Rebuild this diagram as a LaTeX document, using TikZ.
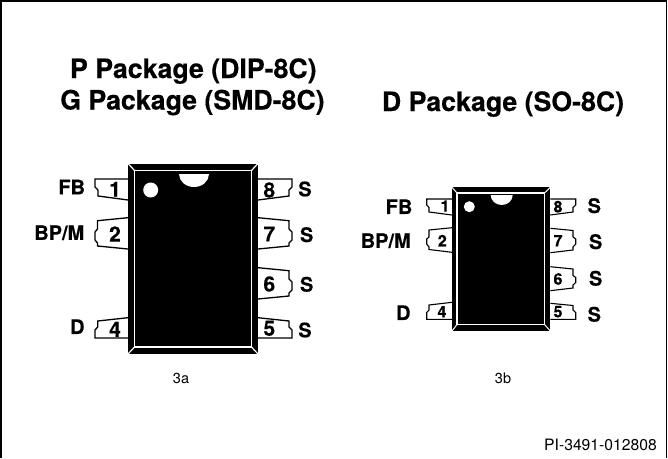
\documentclass[tikz,border=0pt]{standalone}
\usepackage{fontspec}
\setmainfont[BoldFeatures={FakeBold=0.3}]{TeX Gyre Heros}
\tikzset{
  x=1pt,y=-1pt,
  frameline/.style={black,line width=1.6pt},
  pinshape/.style={draw=black,fill=white,line width=1.3pt,line join=miter},
  label/.style={inner sep=0pt,font=\bfseries\fontsize{20}{22}\selectfont},
  title/.style={inner sep=0pt,anchor=base,font=\bfseries\fontsize{26.7}{30}\selectfont},
  bigdigit/.style={inner sep=0pt,font=\bfseries\fontsize{21}{24}\selectfont},
  smalldigit/.style={inner sep=0pt,font=\bfseries\fontsize{16}{18}\selectfont},
  caption/.style={inner sep=0pt,font=\fontsize{14.5}{17}\selectfont},
  credit/.style={inner sep=0pt,font=\fontsize{15.7}{18}\selectfont},
  bevel/.style={white,line width=1.2pt},
}
\begin{document}
\begin{tikzpicture}
\useasboundingbox (0,0) rectangle (668,458);
\fill[white] (0,0) rectangle (668,458);
\draw[frameline] (1,458) -- (1,1) -- (666.5,1) -- (666.5,458);
% titles
\node[title] (t1) at (193.3,78) {P Package (DIP-8C)};
\node[title] (t2) at (192.4,109.5) {G Package (SMD-8C)};
\node[title] (t3) at (503,111) {D Package (SO-8C)};
% pins of 3a
\draw[pinshape] (128,179) -- (95,179) -- (95,187) -- (98,190) -- (98,196) -- (128,200);
\draw[pinshape] (128,217.7) -- (97.5,220.7) -- (97.5,229) -- (95,232) -- (95,240) -- (97.5,243) -- (97.5,246) -- (128,249);
\draw[pinshape] (128,317.7) -- (97.7,321) -- (97.7,327) -- (95,330) -- (95,338) -- (128,338);
\draw[pinshape] (258,179) -- (292,179) -- (292,187) -- (289,190) -- (289,196) -- (258,200);
\draw[pinshape] (258,217.7) -- (289,220.7) -- (289,229) -- (292,232) -- (292,240) -- (289,243) -- (289,246) -- (258,249);
\draw[pinshape] (258,267.7) -- (289,270.7) -- (289,279) -- (292,282) -- (292,290) -- (289,293) -- (289,296) -- (258,299);
\draw[pinshape] (258,317.7) -- (289,321) -- (289,327) -- (292,330) -- (292,338) -- (258,338);
% body of 3a
\fill[black] (128,163.5) rectangle (258,354);
\draw[white,line width=1.6pt] (134.5,170.5) rectangle (251.5,347);
\draw[bevel] (128,163.5) -- (134.5,170.5) (258,163.5) -- (251.5,170.5) (128,354) -- (134.5,347) (258,354) -- (251.5,347);
\fill[white] (150.7,190) circle[radius=7.5];
\fill[white] (179,174) -- (209,174) arc[start angle=0,end angle=180,x radius=15,y radius=13] -- cycle;
% pins of 3b
\begin{scope}[pinshape/.append style={line width=1.1pt}]
\draw[pinshape] (452,199) -- (426.7,199) -- (426.7,205) -- (429,207.5) -- (429,212) -- (452,215);
\draw[pinshape] (452,227.7) -- (429,230) -- (429,237) -- (426.7,239) -- (426.7,244) -- (429,247) -- (429,249.5) -- (452,252.3);
\draw[pinshape] (452,302.3) -- (429,305) -- (429,310) -- (426.7,312.5) -- (426.7,319.3) -- (452,319.3);
\draw[pinshape] (550.3,199) -- (575.7,199) -- (575.7,205) -- (573,207.5) -- (573,212) -- (550.3,215);
\draw[pinshape] (550.3,228.3) -- (573,230.5) -- (573,237) -- (575.7,239) -- (575.7,244) -- (573,247) -- (573,250) -- (550.3,252.7);
\draw[pinshape] (550.3,266.7) -- (573,269) -- (573,275.5) -- (575.7,277.5) -- (575.7,282.5) -- (573,285) -- (573,288) -- (550.3,290.7);
\draw[pinshape] (550.3,303.3) -- (573,305.5) -- (573,310) -- (575.7,312.5) -- (575.7,319.3) -- (550.3,319.3);
\end{scope}
% body of 3b
\fill[black] (452,187.3) rectangle (550.3,331);
\draw[white,line width=1.3pt] (457,193) rectangle (544.5,324.5);
\draw[bevel,line width=1pt] (452,187.3) -- (457,193) (550.3,187.3) -- (544.5,193) (452,331) -- (457,324.5) (550.3,331) -- (544.5,324.5);
\fill[white] (469.3,206.7) circle[radius=5.5];
\fill[white] (490.7,195) -- (512.7,195) arc[start angle=0,end angle=180,x radius=11,y radius=10] -- cycle;
% digits of 3a
\node[bigdigit] (a1) at (115,189.3) {1};
\node[bigdigit] (a2) at (115,234) {2};
\node[bigdigit] (a4) at (115,329.3) {4};
\node[bigdigit] (a8) at (269.3,190) {8};
\node[bigdigit] (a7) at (269.3,234) {7};
\node[bigdigit] (a6) at (269.3,284) {6};
\node[bigdigit] (a5) at (269.3,328.3) {5};
% digits of 3b
\node[smalldigit] (b1) at (445,206) {1};
\node[smalldigit] (b2) at (442.3,240.7) {2};
\node[smalldigit] (b4) at (442,311.7) {4};
\node[smalldigit] (b8) at (558,206.7) {8};
\node[smalldigit] (b7) at (558,240.7) {7};
\node[smalldigit] (b6) at (558,279) {6};
\node[smalldigit] (b5) at (558,311.7) {5};
% signal labels of 3a
\node[label] (la1) at (71.7,187) {FB};
\node[label] (la2) at (59.3,232.7) {BP/M};
\node[label] (la4) at (77.3,326.7) {D};
\node[label] (la8) at (305,189) {S};
\node[label] (la7) at (306.7,234.7) {S};
\node[label] (la6) at (306.7,284.3) {S};
\node[label] (la5) at (305,330) {S};
% signal labels of 3b
\node[label] (lb1) at (399,206.7) {FB};
\node[label] (lb2) at (385.7,240.7) {BP/M};
\node[label] (lb4) at (403.3,312.7) {D};
\node[label] (lb8) at (594.3,205.7) {S};
\node[label] (lb7) at (595.7,241.7) {S};
\node[label] (lb6) at (595.7,278.3) {S};
\node[label] (lb5) at (594.3,314.3) {S};
% captions
\node[caption] (c1) at (181,378) {3a};
\node[caption] (c2) at (503,378) {3b};
\node[credit] (c3) at (600.5,445) {PI-3491-012808};
\end{tikzpicture}
\end{document}
